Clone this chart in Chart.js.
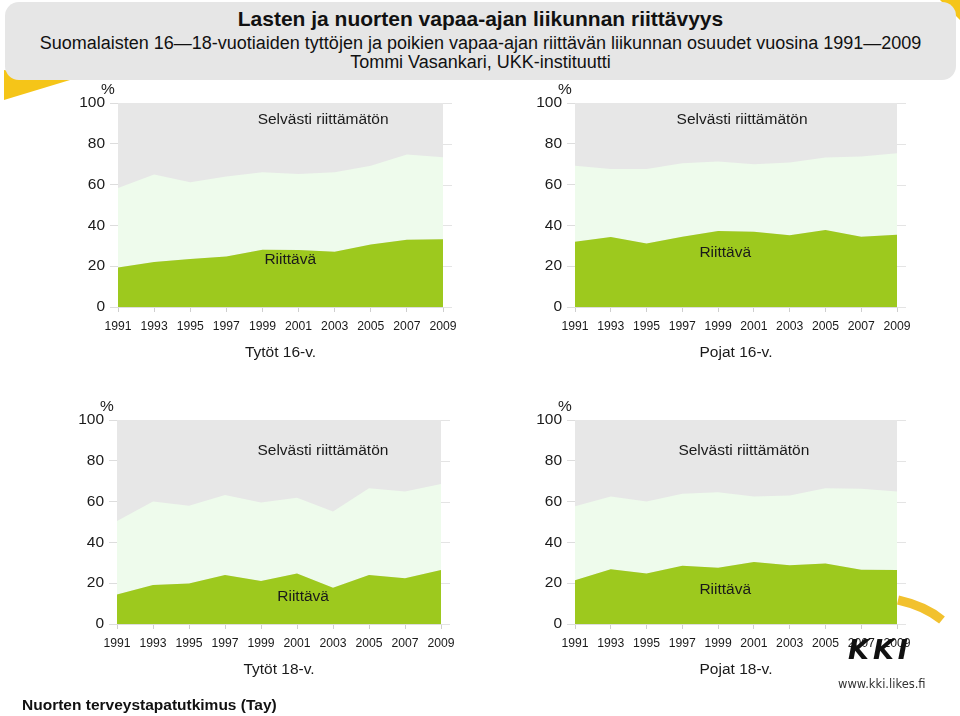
<!DOCTYPE html>
<html>
<head>
<meta charset="utf-8">
<script src="https://cdn.jsdelivr.net/npm/chart.js@4/dist/chart.umd.min.js"></script>
<style>
  body { margin:0; background:#fff; font-family:"Liberation Sans", Arial, sans-serif; }
  #page { position:relative; width:960px; height:716px; overflow:hidden; background:#fff; }
  #deco { position:absolute; left:0; top:0; }
  #header { position:absolute; left:5px; top:2px; width:951px; height:78px; background:#e6e6e6; border-radius:14px; text-align:center; color:#111; white-space:nowrap; }
  #header .t { position:absolute; left:0; right:0; top:5px; font-weight:bold; font-size:21px; }
  #header .s1 { position:absolute; left:0; right:0; top:31px; font-size:18px; }
  #header .s2 { position:absolute; left:0; right:0; top:50px; font-size:18px; }
  canvas.panel { position:absolute; }
  #source { position:absolute; left:22px; top:696px; font-weight:bold; font-size:15.5px; color:#111; }
  #kki { position:absolute; left:848px; top:634px; font-weight:bold; font-style:italic; font-size:27px; letter-spacing:4px; color:#111; font-family:"DejaVu Sans", sans-serif; }
  #url { position:absolute; left:838px; top:677px; font-size:11.5px; color:#333; font-family:"DejaVu Sans", sans-serif; }
</style>
</head>
<body>
<div id="page">
  <svg id="deco" width="960" height="716">
    <polygon points="4,70 4,100 70,80" fill="#f5c518"/>
    <polygon points="940,0 960,0 960,20" fill="#f5c518"/>
    <path d="M 898,600 Q 925,606 942,620" stroke="#f2c12e" stroke-width="9" fill="none"/>
  </svg>
  <div id="header">
    <div class="t">Lasten ja nuorten vapaa-ajan liikunnan riittävyys</div>
    <div class="s1">Suomalaisten 16—18-vuotiaiden tyttöjen ja poikien vapaa-ajan riittävän liikunnan osuudet vuosina 1991—2009</div>
    <div class="s2">Tommi Vasankari, UKK-instituutti</div>
  </div>
  <canvas class="panel" id="c1" width="480" height="300" style="left:0;top:80px"></canvas>
  <canvas class="panel" id="c2" width="480" height="300" style="left:480px;top:80px"></canvas>
  <canvas class="panel" id="c3" width="480" height="300" style="left:0;top:397px"></canvas>
  <canvas class="panel" id="c4" width="480" height="300" style="left:480px;top:397px"></canvas>
  <div id="source">Nuorten terveystapatutkimus (Tay)</div>
  <div id="kki">KKI</div>
  <div id="url">www.kki.likes.fi</div>
</div>
<script>
// data (%)
const years = ['1991','1993','1995','1997','1999','2001','2003','2005','2007','2009'];
const yTicks = [0, 20, 40, 60, 80, 100];

// "Riittävä" = lower dark band, "raja" = top of the light band (above it: Selvästi riittämätön)
const tytot16Riittava = [19.4, 22.0, 23.5, 24.8, 28.1, 27.9, 27.1, 30.6, 33.0, 33.2];
const tytot16Raja     = [58.3, 64.9, 61.1, 64.0, 66.0, 65.2, 66.0, 69.3, 74.7, 73.4];
const pojat16Riittava = [32.0, 34.3, 31.1, 34.4, 37.2, 36.9, 35.2, 37.7, 34.4, 35.4];
const pojat16Raja     = [69.2, 67.7, 67.7, 70.5, 71.3, 70.0, 70.8, 73.3, 73.8, 75.4];
const tytot18Riittava = [14.5, 19.1, 19.9, 24.0, 21.1, 24.8, 17.8, 24.0, 22.4, 26.5];
const tytot18Raja     = [50.5, 60.0, 58.0, 63.2, 59.5, 61.9, 55.1, 66.5, 64.9, 68.6];
const pojat18Riittava = [21.5, 26.8, 24.7, 28.5, 27.6, 30.4, 28.8, 29.6, 26.6, 26.5];
const pojat18Raja     = [57.7, 62.5, 60.0, 63.8, 64.6, 62.5, 63.0, 66.6, 66.3, 65.0];

const panelTitles = ['Tytöt 16-v.', 'Pojat 16-v.', 'Tytöt 18-v.', 'Pojat 18-v.'];

const DARK = '#9dc91e', LIGHT = '#eefbec', GREY = '#e7e7e7', TXT = '#1a1a1a';
const FONT = '"Liberation Sans", Arial, sans-serif';

// grey background, % sign, band names, panel title
const panelDeco = {
  id: 'panelDeco',
  beforeDraw(chart, args, o) {
    const a = chart.chartArea, c = chart.ctx;
    c.save();
    c.fillStyle = GREY;
    c.fillRect(a.left, a.top, a.right - a.left, a.bottom - a.top);
    // grid stubs that stick out on the right
    c.strokeStyle = '#e4e4e4'; c.lineWidth = 1;
    const y = chart.scales.y;
    yTicks.forEach(v => { const py = Math.round(y.getPixelForValue(v)) + 0.5; c.beginPath(); c.moveTo(a.right, py); c.lineTo(a.right + 9, py); c.stroke(); });
    c.restore();
  },
  afterDraw(chart, args, o) {
    const a = chart.chartArea, c = chart.ctx, x = chart.scales.x, y = chart.scales.y;
    c.save();
    c.fillStyle = TXT;
    c.textAlign = 'center'; c.textBaseline = 'middle';
    c.font = '15.5px ' + FONT;
    c.fillText('%', a.left - 10, a.top - 13);
    c.fillText('Selvästi riittämätön', x.getPixelForValue(o.top[0]), y.getPixelForValue(o.top[1]));
    c.fillText('Riittävä', x.getPixelForValue(o.low[0]), y.getPixelForValue(o.low[1]));
    c.fillText(o.title, (a.left + a.right) / 2, a.bottom + 46);
    c.restore();
  }
};

function makePanel(id, riittava, raja, title, yWidth, padRight, top, low){
  return new Chart(document.getElementById(id), {
    type: 'line',
    data: {
      labels: years,
      datasets: [
        { label: 'Riittävä', data: riittava, fill: 'origin', backgroundColor: DARK, borderWidth: 0, pointRadius: 0, tension: 0 },
        { label: 'Osittain riittävä', data: raja, fill: '-1', backgroundColor: LIGHT, borderWidth: 0, pointRadius: 0, tension: 0 }
      ]
    },
    options: {
      responsive: false, animation: false, devicePixelRatio: 1,
      layout: { padding: { left: 0, right: padRight, top: 23, bottom: 43 } },
      plugins: { legend: { display: false }, tooltip: { enabled: false }, panelDeco: { title, top, low } },
      scales: {
        x: {
          offset: false,
          grid: { drawOnChartArea: false, tickLength: 5, color: '#cfcfcf' },
          border: { color: '#dddddd' },
          ticks: { color: TXT, font: { family: FONT, size: 12.2 }, padding: 7, maxRotation: 0, autoSkip: false },
          afterFit: s => { s.height = 30; }
        },
        y: {
          min: 0, max: 100,
          afterBuildTicks: s => { s.ticks = yTicks.map(v => ({ value: v })); },
          grid: { drawOnChartArea: false, tickLength: 8, color: '#dddddd' },
          border: { display: false },
          ticks: { color: TXT, font: { family: FONT, size: 15.5 }, padding: 5 },
          afterFit: s => { s.width = yWidth; }
        }
      }
    },
    plugins: [panelDeco]
  });
}

makePanel('c1', tytot16Riittava, tytot16Raja, panelTitles[0], 118, 37, [5.68, 91.6], [4.77, 23]);
makePanel('c2', pojat16Riittava, pojat16Raja, panelTitles[1], 95, 63, [4.67, 91.6], [4.2, 26.5]);
makePanel('c3', tytot18Riittava, tytot18Raja, panelTitles[2], 117, 39, [5.72, 85], [5.17, 13.2]);
makePanel('c4', pojat18Riittava, pojat18Raja, panelTitles[3], 95, 63, [4.72, 85], [4.2, 16.8]);
</script>
</body>
</html>
